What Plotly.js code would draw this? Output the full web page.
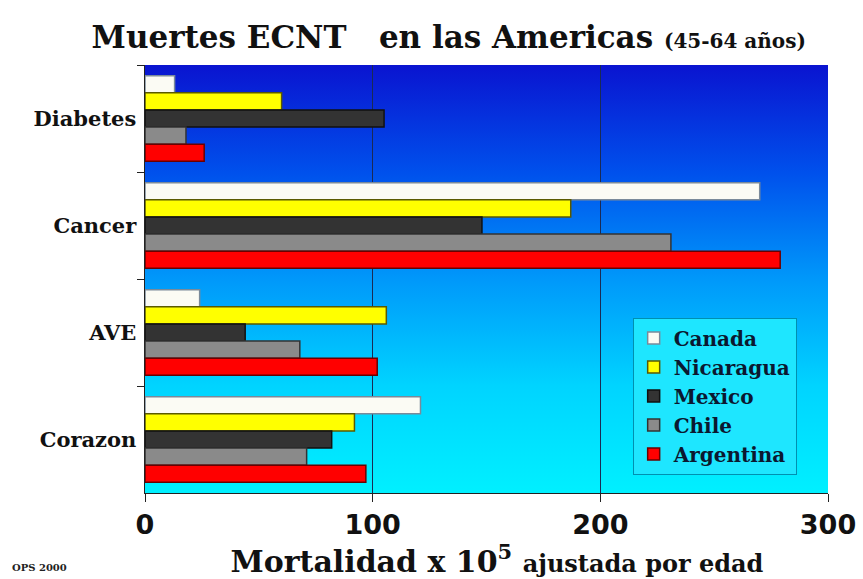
<!DOCTYPE html>
<html>
<head>
<meta charset="utf-8">
<script src="https://cdn.plot.ly/plotly-3.0.1.min.js"></script>
<style>html,body{margin:0;padding:0;background:#fff;}#chart{width:863px;height:579px;}</style>
</head>
<body>
<div id="chart"></div>
<script>
// Data
const categories = ["Diabetes", "Cancer", "AVE", "Corazon"];
const seriesNames = ["Canada", "Nicaragua", "Mexico", "Chile", "Argentina"];
const canada    = [13, 270, 24, 121];
const nicaragua = [60, 187, 106, 92];
const mexico    = [105, 148, 44, 82];
const chile     = [18, 231, 68, 71];
const argentina = [26, 279, 102, 97];
const xTicks = [0, 100, 200, 300];

const seriesValues = [canada, nicaragua, mexico, chile, argentina];
const fills = ["#fbfbf4", "#ffff00", "#333333", "#8a8a8a", "#ff0000"];
const edges = ["#7a8a9a", "#5a5a00", "#111111", "#333333", "#6a0000"];

const traces = seriesNames.map((name, i) => ({
  type: "bar",
  orientation: "h",
  name: name,
  y: categories,
  x: seriesValues[i],
  marker: {color: fills[i], line: {color: edges[i], width: 1.5}},
  hoverinfo: "x+name"
}));

const grad = "<svg xmlns='http://www.w3.org/2000/svg' width='100' height='100' preserveAspectRatio='none'>" +
  "<defs><linearGradient id='g' x1='0' y1='0' x2='0' y2='1'>" +
  "<stop offset='0' stop-color='#0a14d0'/>" +
  "<stop offset='0.25' stop-color='#0050ec'/>" +
  "<stop offset='0.5' stop-color='#0098fa'/>" +
  "<stop offset='0.75' stop-color='#00d4ff'/>" +
  "<stop offset='1' stop-color='#00f0ff'/>" +
  "</linearGradient></defs><rect width='100' height='100' fill='url(#g)'/></svg>";
const gradSrc = "data:image/svg+xml;charset=utf-8," + encodeURIComponent(grad);

const serif = "DejaVu Serif";
const layout = {
  width: 863, height: 579,
  margin: {l: 145, r: 35, t: 65, b: 86},
  paper_bgcolor: "#ffffff",
  plot_bgcolor: "rgba(0,0,0,0)",
  barmode: "group",
  bargap: 0.2,
  bargroupgap: 0,
  showlegend: true,
  title: {
    text: "Muertes ECNT&nbsp;&nbsp; en las Americas <span style='font-size:20px'>(45-64 años)</span>",
    font: {family: serif, size: 31, color: "#111111", weight: "bold"},
    x: 0.52, xanchor: "center", y: 0.935, yanchor: "middle"
  },
  xaxis: {
    range: [0, 300],
    tickvals: xTicks,
    ticktext: xTicks.map(String),
    showgrid: true, gridcolor: "#1a2a55", gridwidth: 1,
    zeroline: false,
    showline: true, linecolor: "#222222", linewidth: 1,
    ticks: "outside", ticklen: 8, tickcolor: "#222",
    tickfont: {family: "DejaVu Sans", size: 27, color: "#111", weight: "bold"},
    title: {
      text: "&nbsp;&nbsp;Mortalidad x 10<sup>5</sup> <span style='font-size:24px'>ajustada por edad</span>",
      font: {family: serif, size: 30, color: "#111", weight: "bold"},
      standoff: 0
    },
    fixedrange: true
  },
  yaxis: {
    autorange: "reversed",
    type: "category",
    showgrid: false,
    zeroline: false,
    showline: true, linecolor: "#222222", linewidth: 1.5,
    ticks: "outside", ticklen: 7, tickcolor: "#222",
    tickson: "boundaries",
    tickfont: {family: serif, size: 21, color: "#111", weight: "bold"},
    ticklabelstandoff: 3,
    fixedrange: true
  },
  legend: {
    x: 0.714, y: 0.41, xanchor: "left", yanchor: "top",
    bgcolor: "#1ee6ff", bordercolor: "#0090b0", borderwidth: 1,
    font: {family: serif, size: 20, color: "#0b1830", weight: "bold"},
    itemwidth: 30, tracegroupgap: 0
  },
  images: [{
    source: gradSrc, xref: "paper", yref: "paper",
    x: 0, y: 1, sizex: 1, sizey: 1, xanchor: "left", yanchor: "top",
    sizing: "stretch", layer: "below"
  }],
  annotations: [{
    text: "OPS 2000", xref: "paper", yref: "paper",
    x: -0.197, y: -0.175, xanchor: "left", yanchor: "middle",
    showarrow: false, font: {family: serif, size: 10, color: "#222", weight: "bold"}
  }]
};

Plotly.newPlot("chart", traces, layout, {displayModeBar: false, staticPlot: true});
</script>
</body>
</html>
